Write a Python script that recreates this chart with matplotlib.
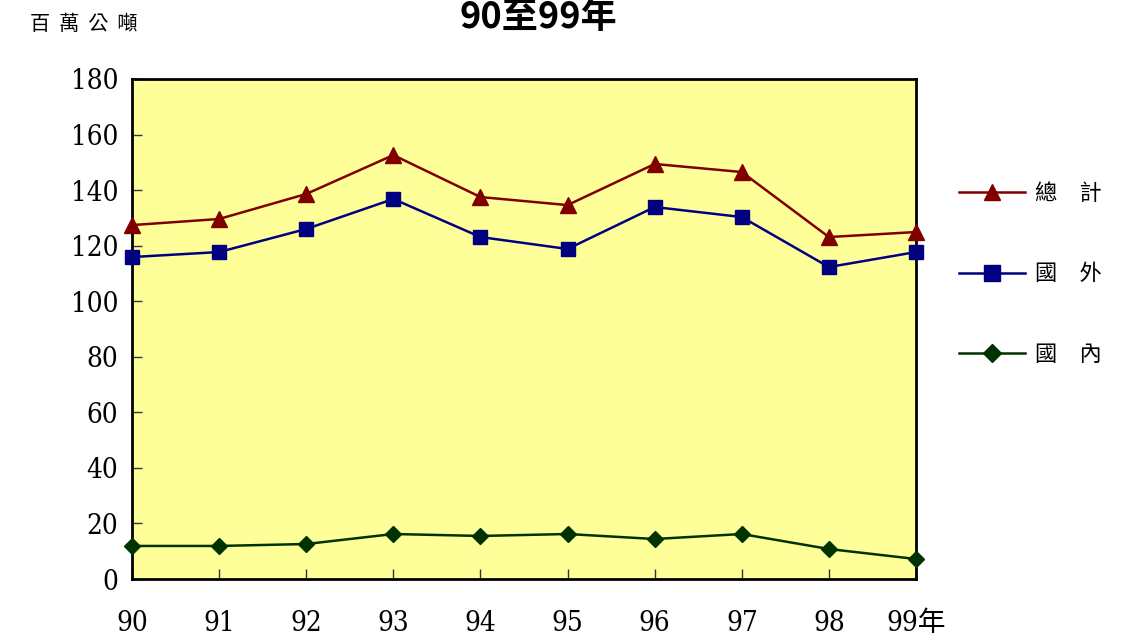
import matplotlib
matplotlib.use("Agg")
import matplotlib.pyplot as plt
from matplotlib.lines import Line2D

# 資料
years = ['90', '91', '92', '93', '94', '95', '96', '97', '98', '99年']
total = [127.4, 129.6, 138.6, 152.6, 137.5, 134.6, 149.4, 146.5, 123.1, 124.9]
foreign = [115.9, 117.7, 126.0, 136.8, 123.1, 118.8, 133.9, 130.3, 112.3, 117.7]
domestic = [11.9, 11.9, 12.6, 16.2, 15.5, 16.2, 14.4, 16.2, 10.8, 7.2]

num_font = ['DejaVu Serif', 'Noto Sans CJK TC']
cjk_font = ['Noto Sans CJK TC', 'DejaVu Sans']

fig = plt.figure(figsize=(11.42, 6.41), dpi=100)
ax = fig.add_axes([0.1156, 0.0967, 0.6865, 0.7801])
ax.set_facecolor('#FFFF99')

x = list(range(len(years)))
ax.plot(x, total, color='#800000', lw=1.8, marker='^', ms=11, clip_on=False, zorder=3)
ax.plot(x, foreign, color='#000080', lw=1.8, marker='s', ms=10, clip_on=False, zorder=3)
ax.plot(x, domestic, color='#003300', lw=1.8, marker='D', ms=8, clip_on=False, zorder=3)

ax.set_xlim(0, 9)
ax.set_ylim(0, 180)
ax.set_yticks(range(0, 181, 20))
ax.set_xticks(x)
ax.set_xticklabels(years)
for lab in ax.get_xticklabels() + ax.get_yticklabels():
    lab.set_family(num_font)
    lab.set_stretch('condensed')
    lab.set_fontsize(20)
ax.tick_params(axis='both', direction='in', length=7, width=1, color='#333333')
ax.tick_params(axis='x', pad=22)
ax.tick_params(axis='y', pad=10)
for s in ax.spines.values():
    s.set_linewidth(2)

fig.text(0.471, 0.972, '90至99年', ha='center', va='center', fontsize=26,
         fontweight='bold', family=cjk_font)
fig.text(0.026, 0.962, '百  萬  公  噸', ha='left', va='center', fontsize=14.5, family=cjk_font)

# 圖例
handles = [
    Line2D([], [], color='#800000', lw=1.8, marker='^', ms=12),
    Line2D([], [], color='#000080', lw=1.8, marker='s', ms=11),
    Line2D([], [], color='#003300', lw=1.8, marker='D', ms=9),
]
leg = fig.legend(handles, ['總　計', '國　外', '國　內'], loc='upper left',
                 bbox_to_anchor=(0.822, 0.748), frameon=False, handlelength=3.0,
                 handletextpad=0.45, labelspacing=2.6,
                 prop={'family': cjk_font, 'size': 16})

fig.savefig('out.png', dpi=100)
